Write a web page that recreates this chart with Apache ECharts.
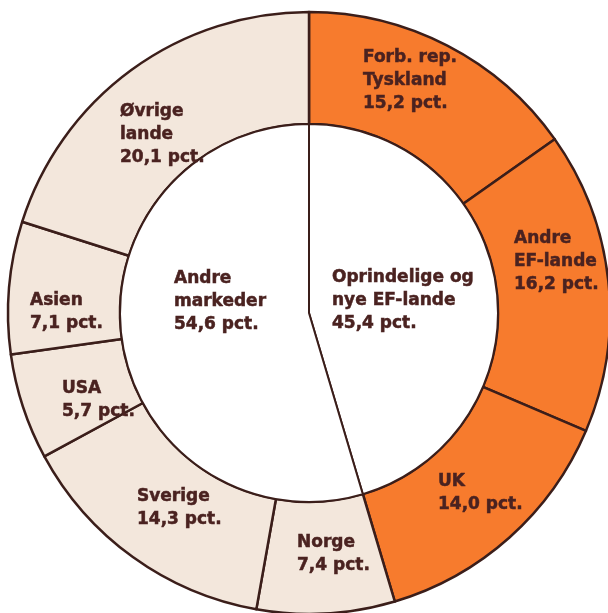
<!DOCTYPE html>
<html>
<head>
<meta charset="utf-8">
<script src="https://cdn.jsdelivr.net/npm/echarts@6/dist/echarts.min.js"></script>
<style>html,body{margin:0;padding:0;background:#fff;}#c{width:608px;height:613px;}</style>
</head>
<body>
<div id="c"></div>
<script>
// Outer ring (clockwise from 12 o'clock)
const ringNames = ["Forb. rep.\nTyskland", "Andre\nEF-lande", "UK", "Norge", "Sverige", "USA", "Asien", "Øvrige\nlande"];
const ringValues = [15.2, 16.2, 14.0, 7.4, 14.3, 5.7, 7.1, 20.1];
const ringGroup = ["ef", "ef", "ef", "other", "other", "other", "other", "other"];
// Inner disk
const innerNames = ["Oprindelige og\nnye EF-lande", "Andre\nmarkeder"];
const innerValues = [45.4, 54.6];

// layout (positions of label text, not data)
const ringLabelPos = [[363,81],[514,262],[438,493],[297,554],[137,508],[62,400],[30,312],[120,135]];
const innerLabelPos = [[332,301],[174,302]];

const ORANGE = '#F77B2D', BEIGE = '#F3E7DC', LINE = '#3b1e1a', TXT = '#4a2220';
const FONT = 'bold 17px "DejaVu Sans", sans-serif';
const fmt = v => v.toFixed(1).replace('.', ',') + ' pct.';

const chart = echarts.init(document.getElementById('c'));
const graphics = [];
function addLabel(p, txt){
  graphics.push({type:'text', x:p[0], y:p[1], z:100, silent:true,
    style:{text:txt, fill:TXT, stroke:TXT, lineWidth:0.5, font:FONT, lineHeight:23, textAlign:'left', textVerticalAlign:'middle'}});
}
ringNames.forEach((n,i)=>addLabel(ringLabelPos[i], n+'\n'+fmt(ringValues[i])));
innerNames.forEach((n,i)=>addLabel(innerLabelPos[i], n+'\n'+fmt(innerValues[i])));

chart.setOption({
  backgroundColor:'#fff',
  animation:false,
  series:[
    {type:'pie', center:[309,313], radius:[189,301], startAngle:90, clockwise:true, silent:true,
     label:{show:false}, labelLine:{show:false},
     data: ringValues.map((v,i)=>({value:v, name:ringNames[i], itemStyle:{color: ringGroup[i]==='ef'?ORANGE:BEIGE, borderColor:LINE, borderWidth:2.5}}))},
    {type:'pie', center:[309,313], radius:[0,189], startAngle:90, clockwise:true, silent:true,
     label:{show:false}, labelLine:{show:false},
     data: innerValues.map((v,i)=>({value:v, name:innerNames[i], itemStyle:{color:'#fff', borderColor:LINE, borderWidth:2}}))}
  ],
  graphic: graphics
});
</script>
</body>
</html>
